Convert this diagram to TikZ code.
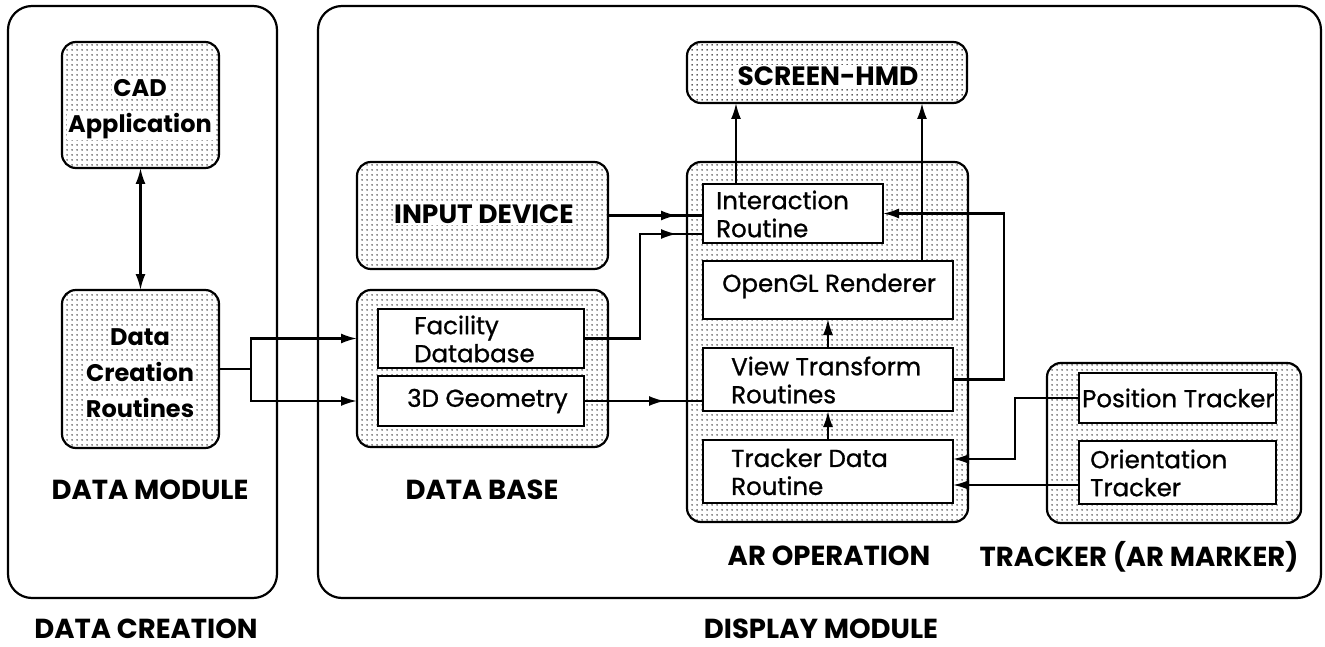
\documentclass[tikz,border=0pt]{standalone}
\usepackage{fontspec}
\setmainfont{Poppins}
\newfontfamily\medfont{Poppins}[FakeBold=0.9]
\usetikzlibrary{arrows.meta,patterns.meta,decorations.markings,calc}

% fine dot screen used inside the shaded blocks
\tikzdeclarepattern{
  name=finedots,
  type=uncolored,
  bounding box={(0pt,0pt) and (5pt,5pt)},
  tile size={(5pt,5pt)},
  code={\fill (2.5pt,2.5pt) circle (0.95pt);}
}

% a line of text on a white band over the dot screen
\newcommand\wband[1]{{\setlength{\fboxsep}{1.5pt}\colorbox{white}{#1}}}

\begin{document}
\begin{tikzpicture}[x=1pt, y=-1pt,
  >={Latex[length=16pt,width=10pt]},
  sz/.style 2 args={minimum width=#1pt, minimum height=#2pt},
  shapebox/.style={draw, line width=2.2pt, inner sep=0pt, outer sep=0pt, anchor=north west},
  outerframe/.style={shapebox, rounded corners=24pt},
  dotbox/.style={shapebox, rounded corners=14pt, pattern=finedots, pattern color=black!85},
  wbox/.style={shapebox, fill=white},
  dtext/.style={align=center, inner sep=0pt, font=\bfseries\fontsize{24}{36}\selectfont},
  dcaps/.style={dtext, font=\bfseries\fontsize{26.5}{36}\selectfont},
  wtext/.style={align=left, anchor=west, inner sep=0pt, font=\medfont\fontsize{24.5}{28}\selectfont},
  sect/.style={inner sep=0pt, font=\bfseries\fontsize{27.5}{30}\selectfont},
  conn/.style={line width=2.2pt},
  midarrow/.style={postaction={decorate}, decoration={markings,
      mark=at position -#1 with {\arrow{Latex[length=16pt,width=10pt]}}}},
]
\fill[white] (0,0) rectangle (1325,647);
\useasboundingbox (0,0) rectangle (1325,647);

% module frames
\node[outerframe, sz={269}{592}] (creation) at (8,6) {};
\node[outerframe, sz={1003}{592}] (display) at (318,6) {};

% blocks
\node[dotbox, sz={157}{126}] (cad) at (62,42) {};
\node[dotbox, sz={157}{158}] (dcr) at (62,290) {};
\node[dotbox, sz={251}{107}] (inp) at (357,162) {};
\node[dotbox, sz={251}{157}] (db) at (357,290) {};
\node[wbox, sz={206}{59}] (fac) at (378,309) {};
\node[wbox, sz={206}{50}] (geo) at (378,376) {};
\node[dotbox, sz={280}{61}] (scr) at (687,42) {};
\node[dotbox, sz={281}{360}] (aro) at (687,162) {};
\node[wbox, sz={180}{59}] (ir) at (703,184) {};
\node[wbox, sz={250}{58}] (ogl) at (703,261) {};
\node[wbox, sz={250}{63}] (vt) at (703,348) {};
\node[wbox, sz={250}{63}] (td) at (703,440) {};
\node[dotbox, sz={254}{160}] (trk) at (1047,363) {};
\node[wbox, sz={197}{50}] (pt) at (1079,373) {};
\node[wbox, sz={197}{63}] (ot) at (1079,441) {};

% block texts
\node[dtext] (cadtxt) at (140,109) {\wband{CAD}\\\wband{Application}};
\node[dtext] (dcrtxt) at (140,373) {\wband{Data}\\\wband{Creation}\\\wband{Routines}};
\node[dcaps] (inptxt) at (484,214) {\wband{INPUT DEVICE}};
\node[dcaps] (scrtxt) at (828,76) {\wband{SCREEN-HMD}};

\node[wtext] (factxt) at (414,339) {Facility\\Database};
\node[wtext] (geotxt) at (407,401) {3D Geometry};
\node[wtext] (irtxt) at (716,214) {Interaction\\Routine};
\node[wtext] (ogltxt) at (722,286) {OpenGL Renderer};
\node[wtext] (vttxt) at (731,380) {View Transform\\Routines};
\node[wtext] (tdtxt) at (731,472) {Tracker Data\\Routine};
\node[wtext] (pttxt) at (1082,398) {Position Tracker};
\node[wtext] (ottxt) at (1090,473) {Orientation\\Tracker};

% section captions
\node[sect] (capdm) at (150,490) {DATA MODULE};
\node[sect] (capdb) at (482,490) {DATA BASE};
\node[sect] (capar) at (829,556) {AR OPERATION};
\node[sect] (captr) at (1139,557) {TRACKER (AR MARKER)};
\node[sect] (capdc) at (146,629) {DATA CREATION};
\node[sect] (capds) at (821,629) {DISPLAY MODULE};

% connectors
\draw[conn, <->] (cad.south) -- (dcr.north);
\draw[conn, ->] (dcr.east) -- ++(32,0) coordinate (fork) |- (db.west |- fac.west);
\draw[conn, ->] (fork) |- (db.west |- geo.west);

\draw[conn, midarrow=26pt] (inp.east) -- (inp.east -| ir.west);
\draw[conn, midarrow=26pt] (fac.east) -- ++(56,0) |- ($(ir.west)+(0,20.5)$);
\draw[conn, midarrow=38pt] (geo.east) -- (geo.east -| vt.west);

\draw[conn, ->] (vt.north) -- (ogl.south);
\draw[conn, ->] (td.north) -- (vt.south);

\coordinate (irtop) at ($(ir.north west)+(33,0)$);
\draw[conn, ->] (irtop) -- (irtop |- scr.south);
\coordinate (ogltop) at ($(ogl.north east)+(-31,0)$);
\draw[conn, ->] (ogltop) -- (ogltop |- scr.south);

\draw[conn, ->] (vt.east) -- ++(51,0) |- (ir.east);

\draw[conn, ->] (pt.west) -- ++(-64,0) |- ($(td.east)+(0,-12.5)$);
\draw[conn, ->] ($(ot.west)+(0,12.5)$) -- ($(td.east)+(0,13.5)$);
\end{tikzpicture}
\end{document}
